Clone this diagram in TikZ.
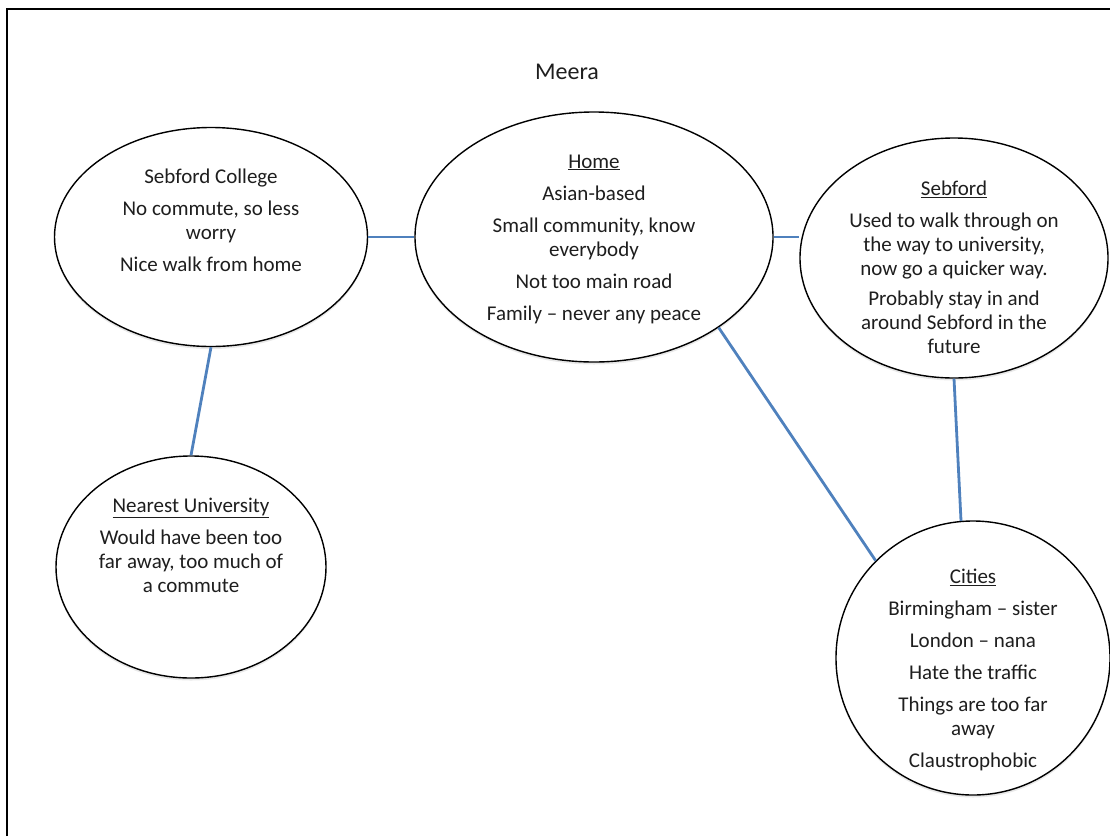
\documentclass[tikz,border=0pt]{standalone}
\usepackage{fontspec}
\setmainfont{Carlito}
\usetikzlibrary{shapes.geometric,shadows}
\definecolor{linkblue}{RGB}{79,129,189}
\definecolor{inkgrey}{RGB}{30,30,30}
\begin{document}
\begin{tikzpicture}[x=1pt,y=-1pt,
  bubble/.style={ellipse, draw=black, line width=1.4pt, fill=white, inner sep=0pt,
    drop shadow={opacity=0.18, shadow xshift=0pt, shadow yshift=-2.5pt}},
  txt/.style={align=center, font=\fontsize{21}{24}\selectfont, text=inkgrey, inner sep=0pt},
  link/.style={draw=linkblue, line width=2.8pt}]
\useasboundingbox (0,0) rectangle (1110,836);

% outer frame (top and left edges)
\draw[line width=2.4pt] (7,836) -- (7,9) -- (1110,9);

% title
\node[txt, font=\fontsize{24}{28}\selectfont] (title) at (567,72) {Meera};

% bubbles
\node[bubble, minimum width=313pt, minimum height=219pt] (college) at (211,237) {};
\node[bubble, minimum width=358pt, minimum height=250pt] (home) at (594,237) {};
\node[bubble, minimum width=308pt, minimum height=240pt] (sebford) at (954,258) {};
\node[bubble, minimum width=270pt, minimum height=222pt] (nearest) at (191,567) {};
\node[bubble, minimum width=274pt, minimum height=274pt] (cities) at (973,658) {};

% bubble texts
\node[txt] (collegeT) at ([yshift=17pt]college.center)
  {Sebford College\\[8pt]No commute, so less\\worry\\[8pt]Nice walk from home};
\node[txt] (homeT) at ([yshift=-2pt]home.center)
  {\underline{Home}\\[8pt]Asian-based\\[8pt]Small community, know\\everybody\\[8pt]Not too main road\\[8pt]Family -- never any peace};
\node[txt] (sebfordT) at ([yshift=-9pt]sebford.center)
  {\underline{Sebford}\\[8pt]Used to walk through on\\the way to university,\\now go a quicker way.\\[6pt]Probably stay in and\\around Sebford in the\\future};
\node[txt] (nearestT) at ([yshift=22pt]nearest.center)
  {\underline{Nearest University}\\[8pt]Would have been too\\far away, too much of\\a commute};
\node[txt] (citiesT) at ([yshift=-12pt]cities.center)
  {\underline{Cities}\\[8pt]Birmingham -- sister\\[8pt]London -- nana\\[8pt]Hate the traffic\\[8pt]Things are too far\\away\\[8pt]Claustrophobic};

% connectors
\draw[link] (college.east) -- (home.west);
\draw[link] (home.east) -- (home.east -| sebford.west);
\draw[link] (college.south) -- (nearest.north);
\draw[link] (home.-36) -- (cities.135);
\draw[link] (sebford.south) -- (cities.95);
\end{tikzpicture}
\end{document}
